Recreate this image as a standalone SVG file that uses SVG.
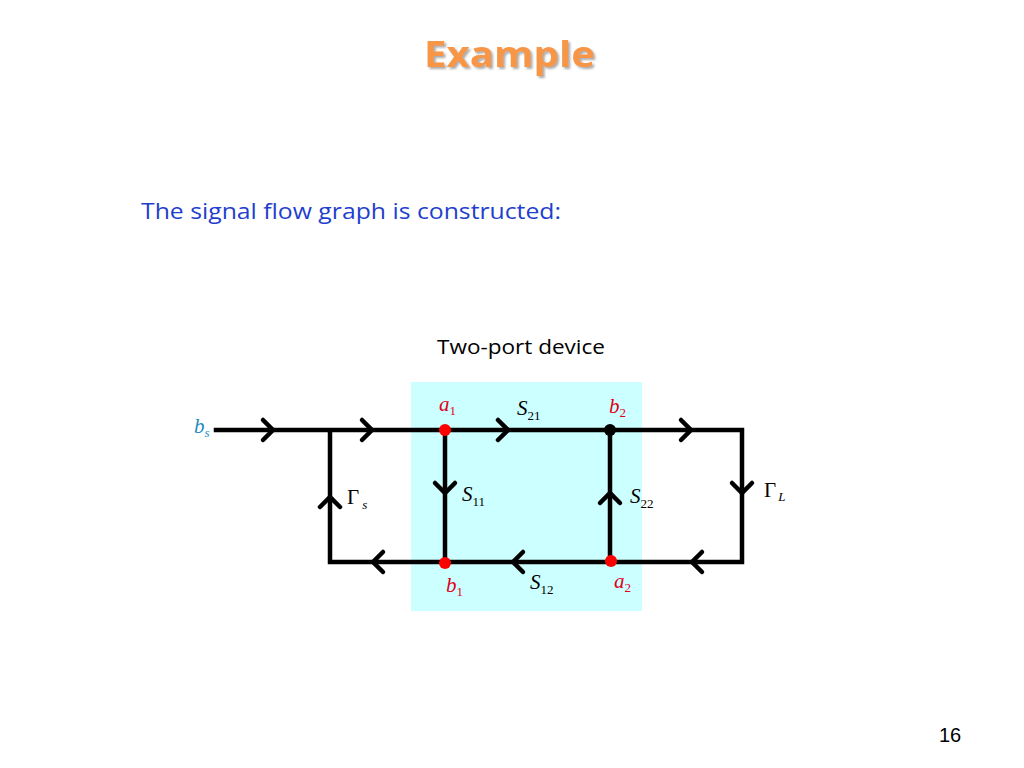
<svg xmlns="http://www.w3.org/2000/svg" width="1024" height="768" viewBox="0 0 1024 768">
<defs>
<style>
.w{fill:none;stroke:#000;stroke-width:4.5;stroke-linecap:square}
.ch{fill:none;stroke:#000;stroke-width:4.5;stroke-linecap:round;stroke-linejoin:miter}
.m{font-family:"Liberation Serif",serif;font-style:italic;font-size:21px}
.g{font-family:"Liberation Serif",serif;font-style:normal;font-size:21px}
.sub{font-size:13px;font-style:normal}
.isub{font-size:13px;font-style:italic}
.r{fill:#E0001B}
.k{fill:#000}
.b{fill:#1E8BC3}
.sans{font-family:"Open Sans",Lato,sans-serif}
</style>
<filter id="sh" x="-10%" y="-10%" width="130%" height="140%">
<feDropShadow dx="2" dy="2" stdDeviation="1" flood-color="#888" flood-opacity="0.7"/>
</filter>
</defs>
<rect width="1024" height="768" fill="#fff"/>
<text class="sans" x="424" y="67" font-weight="bold" font-size="35" fill="#F79646" filter="url(#sh)" textLength="171" lengthAdjust="spacingAndGlyphs">Example</text>
<text class="sans" x="141" y="219" font-size="22" fill="#1F3FCC" textLength="420" lengthAdjust="spacingAndGlyphs">The signal flow graph is constructed:</text>
<text class="sans" x="437" y="354" font-size="20" fill="#000" textLength="168" lengthAdjust="spacingAndGlyphs">Two-port device</text>
<rect id="device" x="411" y="382" width="231" height="229" fill="#CCFFFF"/>
<g id="connectors">
<path class="w" d="M216 430 H742 V562 H330 V430"/>
<path class="w" d="M445 430 V562"/>
<path class="w" d="M610 430 V562"/>
<path class="ch" d="M263 420 L273 430 L263 440"/>
<path class="ch" d="M362 420 L372 430 L362 440"/>
<path class="ch" d="M498 420 L508 430 L498 440"/>
<path class="ch" d="M681 420 L691 430 L681 440"/>
<path class="ch" d="M732 483 L742 493 L752 483"/>
<path class="ch" d="M435 483 L445 493 L455 483"/>
<path class="ch" d="M600 503 L610 493 L620 503"/>
<path class="ch" d="M320 507 L330 497 L340 507"/>
<path class="ch" d="M702 552 L692 562 L702 572"/>
<path class="ch" d="M523 552 L513 562 L523 572"/>
<path class="ch" d="M383 552 L373 562 L383 572"/>
</g>
<g id="n-a1"><circle cx="445" cy="430" r="6" fill="#F00"/><text class="m r" x="439" y="411">a<tspan class="sub" dy="4">1</tspan></text></g>
<g id="n-b2"><circle cx="610" cy="430" r="6" fill="#000"/><text class="m r" x="609" y="413">b<tspan class="sub" dy="4">2</tspan></text></g>
<g id="n-b1"><circle cx="445" cy="563" r="6" fill="#F00"/><text class="m r" x="446" y="592">b<tspan class="sub" dy="4">1</tspan></text></g>
<g id="n-a2"><circle cx="611" cy="561" r="6" fill="#F00"/><text class="m r" x="614" y="588">a<tspan class="sub" dy="4">2</tspan></text></g>
<g id="n-bs"><text class="m b" x="194" y="433">b<tspan class="isub" dy="4">s</tspan></text></g>
<g id="labels">
<text class="m k" x="517" y="415">S<tspan class="sub" dy="5">21</tspan></text>
<text class="m k" x="462" y="501">S<tspan class="sub" dy="5">11</tspan></text>
<text class="m k" x="630" y="503">S<tspan class="sub" dy="5">22</tspan></text>
<text class="m k" x="530" y="589">S<tspan class="sub" dy="5">12</tspan></text>
<text class="g k" x="347" y="504">Γ<tspan class="isub" dx="3" dy="5">s</tspan></text>
<text class="g k" x="764" y="497">Γ<tspan class="isub" dx="2" dy="4">L</tspan></text>
</g>
<text x="950" y="742" text-anchor="middle" font-family="'Liberation Sans',sans-serif" font-size="20" fill="#000">16</text>
</svg>
